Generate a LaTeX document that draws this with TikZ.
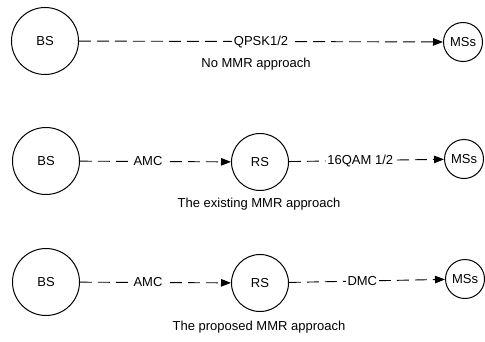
\documentclass[tikz,border=0pt]{standalone}
\usepackage{fontspec}
\setsansfont{Liberation Sans}
\usetikzlibrary{positioning,arrows.meta}

\begin{document}
\begin{tikzpicture}[
  x=1pt,y=-1pt,
  font=\sffamily\fontsize{13}{15}\selectfont,
  >={Triangle[length=10pt,width=7.5pt]},
  stn/.style={circle,draw,line width=1pt,inner sep=0pt},
  bs/.style={stn,minimum size=67pt},
  rs/.style={stn,minimum size=57pt},
  ms/.style={stn,minimum size=39pt},
  link/.style={->,line width=0.9pt,dash pattern=on 12pt off 6pt},
  lbl/.style={fill=white,inner sep=1.5pt},
  caption/.style={anchor=center},
]
\useasboundingbox (0,0) rectangle (485,341);

%================================================================ NO MMR ===
\node[bs] (bs1) at (45,41) {BS};
\node[ms] (ms1) at (463,42) {MSs};
\draw[link] (bs1) -- (ms1) node[lbl,midway] (l1) {QPSK1/2};
\node[caption] (c1) at (256,64) {No MMR approach};

%========================================================== EXISTING MMR ===
\node[bs] (bs2) at (46,161) {BS};
\node[rs] (rs2) at (260,162) {RS};
\node[ms] (ms2) at (464,159) {MSs};
\draw[link] (bs2) -- (rs2) node[lbl,pos=0.45] (l2) {AMC};
\draw[link] (rs2) -- (ms2) node[lbl,pos=0.46] (l3) {16QAM 1/2};
\node[caption] (c2) at (259,204) {The existing MMR approach};

%========================================================== PROPOSED MMR ===
\node[bs] (bs3) at (46,282) {BS};
\node[rs] (rs3) at (260,283) {RS};
\node[ms] (ms3) at (465,279) {MSs};
\draw[link] (bs3) -- (rs3) node[lbl,pos=0.45] (l4) {AMC};
\draw[link] (rs3) -- (ms3) node[lbl,pos=0.47] (l5) {DMC};
\node[caption] (c3) at (259,327) {The proposed MMR approach};

\end{tikzpicture}
\end{document}
